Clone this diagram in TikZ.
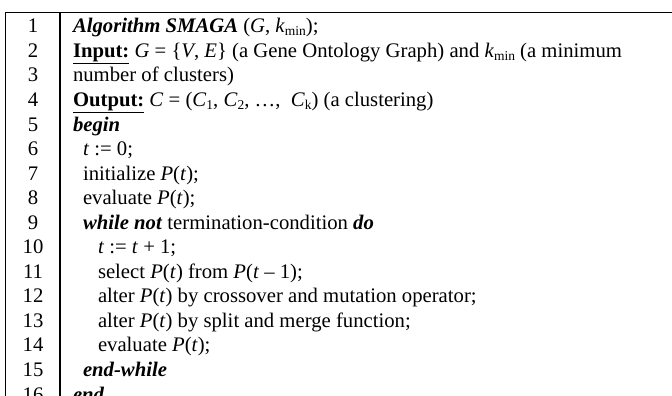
\documentclass[tikz,border=0pt]{standalone}
\usepackage{fontspec}
\setmainfont{Liberation Serif}
\newcommand\lowsub[1]{\raisebox{-0.3ex}{\fontsize{13.5}{13.5}\selectfont #1}}
\newcommand\kw[1]{\textbf{\textit{#1}}}
\begin{document}
\begin{tikzpicture}[x=1pt,y=1pt,
  every node/.style={inner sep=0pt,outer sep=0pt,font=\fontsize{20.7}{24}\selectfont},
  num/.style={anchor=base},
  code/.style={anchor=base west},
  rule/.style={line width=1.8pt}]
\useasboundingbox (0,0) rectangle (672,-396);
% table frame
\coordinate (tl) at (5.5,-12.5);
\coordinate (tr) at (672,-12.5);
\coordinate (bl) at (5.5,-400);
\coordinate (dt) at (60,-12.5);
\coordinate (db) at (60,-400);
\draw[rule] (tl) -- (tr);
\draw[rule] (tl) -- (bl);
\draw[rule] (dt) -- (db);
% line numbers
\foreach \i in {1,...,16}{
  \node[num] (n\i) at (33,{-32.8-(\i-1)*24.55}) {\i};
}
% code lines
\def\la{73}\def\lb{83}\def\lc{98}
\node[code] (t1)  at (\la,-32.8)  {\kw{Algorithm SMAGA} (\textit{G}, \textit{k}\lowsub{min});};
\node[code] (t2)  at (\la,{-32.8-1*24.55}) {\underline{\textbf{Input:}} \textit{G} = \{\textit{V}, \textit{E}\} (a Gene Ontology Graph) and \textit{k}\lowsub{min} (a minimum};
\node[code] (t3)  at (\la,{-32.8-2*24.55}) {number of clusters)};
\node[code] (t4)  at (\la,{-32.8-3*24.55}) {\underline{\textbf{Output:}} \textit{C} = (\textit{C}\lowsub{1}, \textit{C}\lowsub{2}, …,\ \ \textit{C}\lowsub{k}) (a clustering)};
\node[code] (t5)  at (\la,{-32.8-4*24.55}) {\kw{begin}};
\node[code] (t6)  at (\lb,{-32.8-5*24.55}) {\textit{t} := 0;};
\node[code] (t7)  at (\lb,{-32.8-6*24.55}) {initialize \textit{P}(\textit{t});};
\node[code] (t8)  at (\lb,{-32.8-7*24.55}) {evaluate \textit{P}(\textit{t});};
\node[code] (t9)  at (\lb,{-32.8-8*24.55}) {\kw{while not} termination-condition \kw{do}};
\node[code] (t10) at (\lc,{-32.8-9*24.55}) {\textit{t} := \textit{t} + 1;};
\node[code] (t11) at (\lc,{-32.8-10*24.55}) {select \textit{P}(\textit{t}) from \textit{P}(\textit{t} – 1);};
\node[code] (t12) at (\lc,{-32.8-11*24.55}) {alter \textit{P}(\textit{t}) by crossover and mutation operator;};
\node[code] (t13) at (\lc,{-32.8-12*24.55}) {alter \textit{P}(\textit{t}) by split and merge function;};
\node[code] (t14) at (\lc,{-32.8-13*24.55}) {evaluate \textit{P}(\textit{t});};
\node[code] (t15) at (\lb,{-32.8-14*24.55}) {\kw{end-while}};
\node[code] (t16) at (\la,{-32.8-15*24.55}) {\kw{end}};
\end{tikzpicture}
\end{document}
